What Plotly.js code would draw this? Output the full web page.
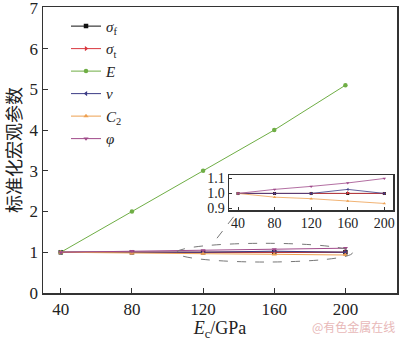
<!DOCTYPE html>
<html><head><meta charset="utf-8">
<script src="https://cdn.plot.ly/plotly-3.0.1.min.js"></script>
<style>html,body{margin:0;padding:0;background:#fff}#chart{width:400px;height:341px}</style>
</head><body><div id="chart"></div>
<script>
const Ec = [40, 80, 120, 160, 200];
const sigmaF = [1.0, 1.0, 1.0, 1.0, 1.0];
const sigmaT = [1.0, 1.0, 1.0, 1.005, 1.0];
const E = [1.0, 2.0, 3.0, 4.0, 5.1];
const nu = [1.0, 1.0, 1.0, 1.027, 1.0];
const C2 = [1.0, 0.975, 0.965, 0.95, 0.933];
const phi = [1.0, 1.027, 1.047, 1.07, 1.1];
const yTicks = [0, 1, 2, 3, 4, 5, 6, 7];
const insetYTicks = [0.9, 1.0, 1.1];
const names = ['<i>σ</i><sub>f</sub>', '<i>σ</i><sub>t</sub>', '<i>E</i>', '<i>ν</i>', '<i>C</i><sub>2</sub>', '<i>φ</i>'];
const seriesList = [sigmaF, sigmaT, E, nu, C2, phi];
const colors = ['#111111', '#d9363e', '#6fae45', '#3b3b85', '#eea050', '#a04a8a'];
const symbols = ['square', 'triangle-right', 'circle', 'triangle-left', 'triangle-up', 'triangle-down'];

const traces = [];
seriesList.forEach((s, i) => {
  traces.push({x: Ec, y: s, name: names[i], type: 'scatter', mode: 'lines+markers',
    line: {color: colors[i], width: 1}, marker: {color: colors[i], symbol: symbols[i], size: 4.5},
    xaxis: 'x', yaxis: 'y'});
});
seriesList.forEach((s, i) => {
  if (i === 2) return;
  traces.push({x: Ec, y: s, name: names[i], type: 'scatter', mode: 'lines+markers', showlegend: false,
    line: {color: colors[i], width: 0.8}, marker: {color: colors[i], symbol: symbols[i], size: 3},
    xaxis: 'x2', yaxis: 'y2'});
});

const serif = 'Liberation Serif, Times New Roman, serif';
const axBase = {showline: true, linecolor: '#333', linewidth: 1.5, mirror: true, ticks: 'inside',
  ticklen: 5, tickcolor: '#333', showgrid: false, zeroline: false,
  tickfont: {family: serif, size: 17, color: '#222'}};

const layout = {
  width: 400, height: 341,
  margin: {l: 43, r: 3, t: 7, b: 48},
  paper_bgcolor: '#fff', plot_bgcolor: '#fff',
  showlegend: true,
  legend: {x: 0.065, y: 0.99, xanchor: 'left', yanchor: 'top', bgcolor: 'rgba(0,0,0,0)',
    font: {family: serif, size: 15, color: '#222'}, tracegroupgap: 0, itemwidth: 30},
  xaxis: Object.assign({}, axBase, {range: [30, 229], tickvals: Ec, ticktext: Ec.map(String),
    title: {text: '<i>E</i><sub>c</sub>/GPa', font: {family: serif, size: 18, color: '#222'}, standoff: 4}}),
  yaxis: Object.assign({}, axBase, {range: [0, 7.02], tickvals: yTicks, ticktext: yTicks.map(String),
    ticklabeloverflow: 'allow',
    title: {text: '标准化宏观参数', font: {family: 'Noto Sans CJK SC', size: 18, color: '#222'}, standoff: 8}}),
  xaxis2: Object.assign({}, axBase, {domain: [0.525, 0.99], anchor: 'y2', range: [30, 210], tickvals: Ec,
    ticklen: 3, linewidth: 1.3, tickfont: {family: serif, size: 14, color: '#222'}}),
  yaxis2: Object.assign({}, axBase, {domain: [0.289, 0.411], anchor: 'x2', range: [0.887, 1.12],
    tickvals: insetYTicks, ticktext: insetYTicks.map(v => v.toFixed(1)), ticklen: 3, linewidth: 1.3,
    tickfont: {family: serif, size: 14, color: '#222'}}),
  shapes: [
    {type: 'circle', xref: 'x', yref: 'y', x0: 105, x1: 204, y0: 0.76, y1: 1.22,
      line: {color: '#777', width: 1, dash: 'dash'}},
    {type: 'line', xref: 'paper', yref: 'paper', x0: (217 - 43) / 354, y0: (293 - 238) / 287,
      x1: (234 - 43) / 354, y1: (293 - 216) / 287, line: {color: '#777', width: 1, dash: 'dash'}}
  ],
  annotations: [
    {text: '@有色金属在线', xref: 'paper', yref: 'paper', x: 1.0, y: -0.118, xanchor: 'right', yanchor: 'middle',
      showarrow: false, font: {family: 'Noto Sans CJK SC', size: 12, color: '#e8b8b8'}}
  ]
};
Plotly.newPlot('chart', traces, layout, {displayModeBar: false, staticPlot: true});
</script></body></html>
